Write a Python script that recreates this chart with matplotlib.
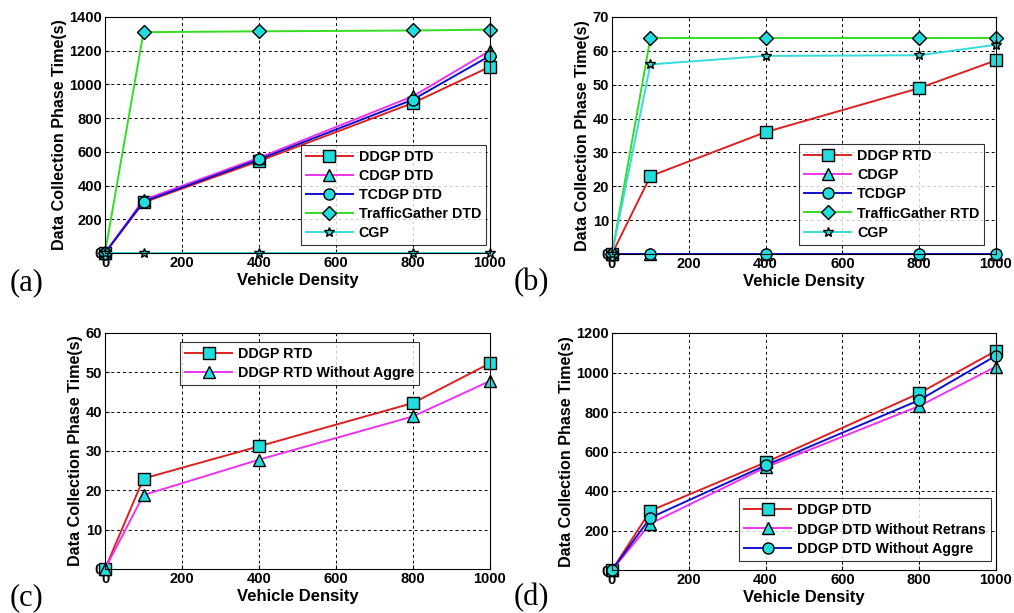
#!/usr/bin/env python3
"""Data collection phase time vs vehicle density, four panels."""

import matplotlib.pyplot as plt

density = [0, 100, 400, 800, 1000]

# (a) DTD
a_labels = ["DDGP DTD", "CDGP DTD", "TCDGP DTD", "TrafficGather DTD", "CGP"]
a_ddgp = [0, 300, 545, 890, 1105]
a_cdgp = [0, 315, 565, 930, 1200]
a_tcdgp = [0, 305, 555, 910, 1170]
a_traffic = [0, 1310, 1315, 1320, 1325]
a_cgp = [0, 0, 0, 0, 0]

# (b) RTD
b_labels = ["DDGP RTD", "CDGP", "TCDGP", "TrafficGather RTD", "CGP"]
b_ddgp = [0, 23, 36, 49, 57.2]
b_cdgp = [0, 0, 0, 0, 0]
b_tcdgp = [0, 0, 0, 0, 0]
b_traffic = [0, 63.8, 63.8, 63.8, 63.8]
b_cgp = [0, 56, 58.5, 58.7, 61.8]

# (c)
c_labels = ["DDGP RTD", "DDGP RTD Without Aggre"]
c_ddgp = [0, 23, 31.2, 42.2, 52.3]
c_noaggre = [0, 18.8, 27.8, 38.8, 47.8]

# (d)
d_labels = ["DDGP DTD", "DDGP DTD Without Retrans", "DDGP DTD Without Aggre"]
d_ddgp = [0, 300, 545, 895, 1110]
d_noretrans = [0, 235, 520, 830, 1030]
d_noaggre = [0, 265, 530, 860, 1085]

RED, MAG, BLUE, GREEN, CYAN = "#dd2020", "#ee33ee", "#1010cc", "#33dd22", "#33dddd"
FACE = "#22dddd"

plt.rcParams["font.family"] = ["Liberation Sans", "DejaVu Sans"]
plt.rcParams["font.weight"] = "bold"

W, H = 1014, 613
fig = plt.figure(figsize=(W / 100, H / 100), dpi=100)


def make_ax(left, top, right, bottom):
    return fig.add_axes([left / W, 1 - bottom / H, (right - left) / W, (bottom - top) / H])


def style(ax, ymax, ystep, tag, tag_xy):
    ax.set_xlim(0, 1000)
    ax.set_ylim(0, ymax)
    ax.set_xticks(range(0, 1001, 200))
    ax.set_yticks(range(0, ymax + 1, ystep))
    ax.grid(True, color="black", linestyle=(0, (3, 3)), linewidth=0.7)
    ax.tick_params(labelsize=10.5, length=3, direction="in", pad=2)
    for lab in ax.get_xticklabels() + ax.get_yticklabels():
        lab.set_fontweight("bold")
    ax.set_xlabel("Vehicle Density", fontsize=12, fontweight="bold", labelpad=2)
    ax.set_ylabel("Data Collection Phase Time(s)", fontsize=11.6, fontweight="bold", labelpad=2)
    for s in ax.spines.values():
        s.set_linewidth(0.8)
    fig.text(tag_xy[0] / W, 1 - tag_xy[1] / H, tag, fontsize=22,
             family="Liberation Serif", fontweight="normal", va="center", ha="left")


def series(ax, y, color, marker, label, ms=8):
    ax.plot(density, y, color=color, linewidth=1.4, marker=marker, markersize=ms,
            markerfacecolor=FACE, markeredgecolor="black", markeredgewidth=1.0,
            label=label, clip_on=False)


def legend(ax, bbox):
    lg = ax.legend(loc="lower left", bbox_to_anchor=bbox, fontsize=10.3, frameon=True,
                   fancybox=False, edgecolor="black", borderpad=0.35, labelspacing=0.35,
                   handlelength=3.3, handletextpad=0.4, borderaxespad=0)
    lg.get_frame().set_linewidth(0.8)
    for t in lg.get_texts():
        t.set_fontweight("bold")


# (a)
ax = make_ax(105, 17, 490, 253)
series(ax, a_ddgp, RED, "s", a_labels[0])
series(ax, a_cdgp, MAG, "^", a_labels[1])
series(ax, a_tcdgp, BLUE, "o", a_labels[2])
series(ax, a_traffic, GREEN, "D", a_labels[3], ms=7.5)
series(ax, a_cgp, CYAN, "*", a_labels[4], ms=7)
style(ax, 1400, 200, "(a)", (10, 283))
legend(ax, (0.508, 0.035))

# (b)
ax = make_ax(612, 17, 996, 254)
series(ax, b_ddgp, RED, "s", b_labels[0])
series(ax, b_cdgp, MAG, "^", b_labels[1])
series(ax, b_tcdgp, BLUE, "o", b_labels[2])
series(ax, b_traffic, GREEN, "D", b_labels[3], ms=7.5)
series(ax, b_cgp, CYAN, "*", b_labels[4], ms=7)
style(ax, 70, 10, "(b)", (514, 283))
legend(ax, (0.487, 0.04))

# (c)
ax = make_ax(105, 333, 490, 569)
series(ax, c_ddgp, RED, "s", c_labels[0])
series(ax, c_noaggre, MAG, "^", c_labels[1])
style(ax, 60, 10, "(c)", (10, 598))
legend(ax, (0.195, 0.78))

# (d)
ax = make_ax(612, 333, 996, 570)
series(ax, d_ddgp, RED, "s", d_labels[0])
series(ax, d_noretrans, MAG, "^", d_labels[1])
series(ax, d_noaggre, BLUE, "o", d_labels[2])
style(ax, 1200, 200, "(d)", (514, 598))
legend(ax, (0.331, 0.04))

fig.savefig("out.png", dpi=100)
